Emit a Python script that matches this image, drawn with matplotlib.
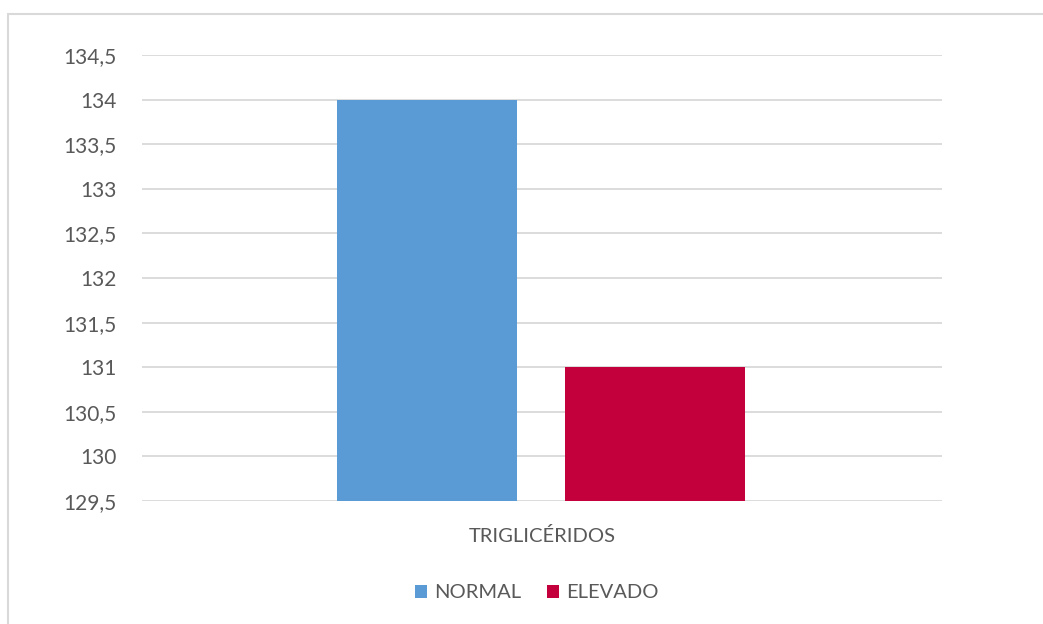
import matplotlib
matplotlib.use("Agg")
import matplotlib.pyplot as plt
from matplotlib.patches import Rectangle
import numpy as np

categories = ["TRIGLICÉRIDOS"]
series_names = ["NORMAL", "ELEVADO"]
series_values = [[134], [131]]
series_colors = ["#5B9BD5", "#C3003C"]
y_ticks = [129.5, 130, 130.5, 131, 131.5, 132, 132.5, 133, 133.5, 134, 134.5]
y_tick_labels = ["129,5", "130", "130,5", "131", "131,5", "132", "132,5",
                 "133", "133,5", "134", "134,5"]

text_color = "#595959"
plt.rcParams["font.family"] = ["Lato", "DejaVu Sans"]

W, H, DPI = 1043, 624, 100
fig = plt.figure(figsize=(W / DPI, H / DPI), dpi=DPI)
fig.patch.set_facecolor("white")

# chart area frame (open to the right and bottom)
fig.add_artist(Rectangle((8 / W, -0.05), 1.2, 1 - 14 / H + 0.05,
                         transform=fig.transFigure, fill=False,
                         edgecolor="#D9D9D9", linewidth=1.5))

ax = fig.add_axes([142 / W, 1 - 501 / H, 800 / W, (501 - 55) / H])

x = np.arange(len(categories))
bar_w = 0.225
gap = 0.06
offsets = [-(bar_w + gap) / 2, (bar_w + gap) / 2]
bars = []
for vals, off, col, name in zip(series_values, offsets, series_colors, series_names):
    b = ax.bar(x + off - 0.001, np.array(vals) - y_ticks[0], bottom=y_ticks[0],
               width=bar_w, color=col, label=name, zorder=3)
    bars.append(b)

ax.set_xlim(-0.5, 0.5)
ax.set_ylim(y_ticks[0], y_ticks[-1])
ax.set_yticks(y_ticks)
ax.set_yticklabels(y_tick_labels)
ax.set_xticks(x)
ax.set_xticklabels(categories)
ax.yaxis.grid(True, color="#D9D9D9", linewidth=1.3, zorder=0)
ax.set_axisbelow(True)
for s in ax.spines.values():
    s.set_visible(False)
ax.tick_params(axis="y", length=0, pad=18, labelsize=15, labelcolor=text_color)
ax.tick_params(axis="x", length=0, pad=19, labelsize=14.5, labelcolor=text_color)

leg = fig.legend(handles=[b[0] for b in bars], labels=series_names,
                 loc="center", bbox_to_anchor=(537 / W, 1 - 593 / H),
                 ncol=2, frameon=False, fontsize=14.5, handlelength=0.6,
                 handleheight=0.6, handletextpad=0.35, columnspacing=1.3)
for t in leg.get_texts():
    t.set_color(text_color)

fig.savefig("out.png", dpi=DPI, facecolor="white")
